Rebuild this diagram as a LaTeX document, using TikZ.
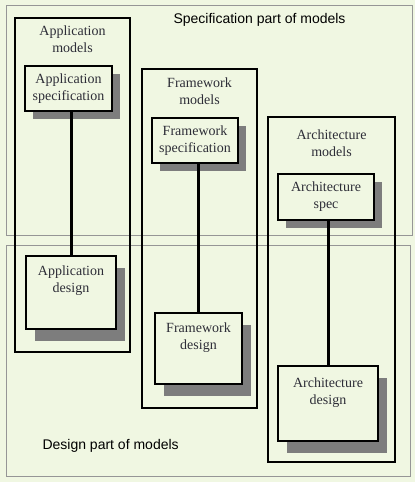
\documentclass[tikz,border=0pt]{standalone}
\usepackage{fontspec}
\setmainfont{Liberation Serif}
\setsansfont{Liberation Sans}
\usetikzlibrary{shadows}
\definecolor{bgreen}{RGB}{240,247,226}
\definecolor{partgray}{RGB}{150,150,150}
\definecolor{shadowgray}{RGB}{125,125,125}
\definecolor{textgray}{RGB}{45,45,55}

\begin{document}
\begin{tikzpicture}[x=1pt,y=-1pt,
  part/.style={draw=partgray,line width=0.9pt},
  group/.style={draw,line width=1.1pt},
  boxtext/.style={align=center,text=textgray,font=\fontsize{14}{17}\selectfont},
  parttext/.style={anchor=west,font=\sffamily\fontsize{14}{17}\selectfont},
  specbox/.style={draw,line width=1.4pt,fill=bgreen,inner sep=0pt,boxtext,
    drop shadow={shadow xshift=8pt,shadow yshift=-8pt,fill=shadowgray,opacity=1}},
  designbox/.style={draw,line width=1.4pt,fill=bgreen,inner sep=0pt,
    drop shadow={shadow xshift=9pt,shadow yshift=-12pt,fill=shadowgray,opacity=1}},
  link/.style={line width=3pt}]

\useasboundingbox[fill=bgreen] (0,0) rectangle (415,482);

\draw[part] (6,5) rectangle (412,235);
\draw[part] (6,245) rectangle (410,476);

\node[parttext] (spectitle) at (170,20) {Specification part of models};
\node[parttext] (designtitle) at (39,446) {Design part of models};

\draw[group] (15,18) rectangle (130,352);
\draw[group] (142,69) rectangle (257,408);
\draw[group] (268,117) rectangle (395,462);

\node[boxtext] (apptitle) at (72.5,39) {Application\\models};
\node[boxtext] (fwtitle) at (199.5,91) {Framework\\models};
\node[boxtext] (archtitle) at (331.5,143.5) {Architecture\\models};

\node[specbox,minimum width=87,minimum height=45] (appspec) at (68.5,88.5) {Application\\specification};
\node[specbox,minimum width=86,minimum height=45] (fwspec) at (195,140.5) {Framework\\specification};
\node[specbox,minimum width=96,minimum height=46] (archspec) at (326,197) {Architecture\\spec};

\node[designbox,minimum width=90,minimum height=73] (appdesign) at (71,292.5) {};
\node[designbox,minimum width=87,minimum height=71] (fwdesign) at (198.5,348.5) {};
\node[designbox,minimum width=100,minimum height=75] (archdesign) at (328,403.5) {};

\node[boxtext] (appdesigntext) at (71,281) {Application\\design};
\node[boxtext] (fwdesigntext) at (198.5,338) {Framework\\design};
\node[boxtext] (archdesigntext) at (328,392.5) {Architecture\\design};

\draw[link] (appspec.south -| appdesign.north) -- (appdesign.north);
\draw[link] (fwspec.south -| fwdesign.north) -- (fwdesign.north);
\draw[link] (archspec.south -| archdesign.north) -- (archdesign.north);
\end{tikzpicture}
\end{document}
